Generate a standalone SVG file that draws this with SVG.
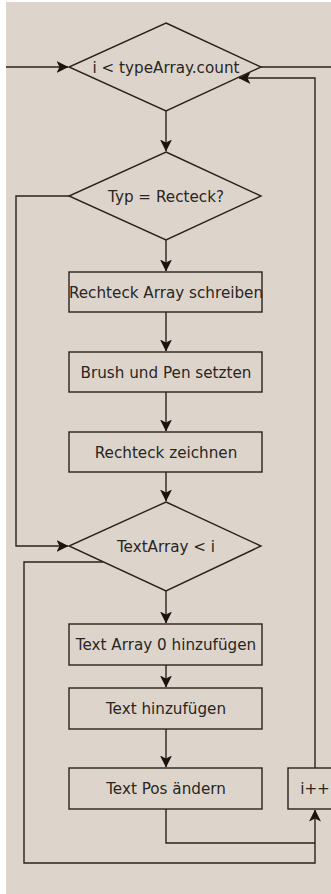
<svg xmlns="http://www.w3.org/2000/svg" width="331" height="894" viewBox="0 0 331 894">
  <style>
    .shape { fill: none; stroke: #2b221b; stroke-width: 1.4; }
    .wire { fill: none; stroke: #2b221b; stroke-width: 1.4; }
    .label { font-family: "DejaVu Sans", "Liberation Sans", sans-serif; font-size: 15.2px; fill: #2a2522; text-anchor: middle; }
  </style>
  <defs>
    <marker id="arrow" viewBox="0 0 12 13" refX="11.5" refY="6.5" markerWidth="12" markerHeight="13" markerUnits="userSpaceOnUse" orient="auto">
      <path d="M0,0.5 L12,6.5 L0,12.5 L3,6.5 Z" fill="#1a130e"/>
    </marker>
  </defs>

  <!-- canvas -->
  <rect x="0" y="0" width="331" height="894" fill="#ffffff"/>
  <rect x="6" y="2" width="325" height="892" fill="#ddd5cc"/>

  <!-- connectors -->
  <g id="connectors">
    <line class="wire" x1="6" y1="67" x2="68" y2="67" marker-end="url(#arrow)"/>
    <line class="wire" x1="261" y1="67" x2="331" y2="67"/>
    <line class="wire" x1="166" y1="111" x2="166" y2="151" marker-end="url(#arrow)"/>
    <polyline class="wire" points="69,196 16,196 16,546 68,546" marker-end="url(#arrow)"/>
    <line class="wire" x1="166" y1="240" x2="166" y2="271" marker-end="url(#arrow)"/>
    <line class="wire" x1="166" y1="312" x2="166" y2="351" marker-end="url(#arrow)"/>
    <line class="wire" x1="166" y1="392" x2="166" y2="431" marker-end="url(#arrow)"/>
    <line class="wire" x1="166" y1="472" x2="166" y2="501" marker-end="url(#arrow)"/>
    <line class="wire" x1="166" y1="591" x2="166" y2="623" marker-end="url(#arrow)"/>
    <line class="wire" x1="166" y1="665" x2="166" y2="687" marker-end="url(#arrow)"/>
    <line class="wire" x1="166" y1="729" x2="166" y2="767" marker-end="url(#arrow)"/>
    <polyline class="wire" points="166,809 166,843 315,843"/>
    <polyline class="wire" points="103,562 24,562 24,863 315,863 315,810" marker-end="url(#arrow)"/>
    <polyline class="wire" points="315,768 315,78 239,78" marker-end="url(#arrow)"/>
  </g>

  <g id="loop-check">
    <polygon class="shape" points="166,23 261,67 166,111 69,67"/>
    <text class="label" x="166" y="72.5">i &lt; typeArray.count</text>
  </g>

  <g id="type-check">
    <polygon class="shape" points="166,152 261,196 166,240 69,196"/>
    <text class="label" x="166" y="201.5">Typ = Recteck?</text>
  </g>

  <g id="rect-array">
    <rect class="shape" x="69" y="272" width="193" height="40"/>
    <text class="label" x="166" y="297.5">Rechteck Array schreiben</text>
  </g>

  <g id="brush-pen">
    <rect class="shape" x="69" y="352" width="193" height="40"/>
    <text class="label" x="166" y="377.5">Brush und Pen setzten</text>
  </g>

  <g id="draw-rect">
    <rect class="shape" x="69" y="432" width="193" height="40"/>
    <text class="label" x="166" y="457.5">Rechteck zeichnen</text>
  </g>

  <g id="text-check">
    <polygon class="shape" points="166,502 261,546 166,591 69,546"/>
    <text class="label" x="166" y="551.5">TextArray &lt; i</text>
  </g>

  <g id="text-array-add">
    <rect class="shape" x="69" y="624" width="193" height="41"/>
    <text class="label" x="166" y="650">Text Array 0 hinzufügen</text>
  </g>

  <g id="text-add">
    <rect class="shape" x="69" y="688" width="193" height="41"/>
    <text class="label" x="166" y="714">Text hinzufügen</text>
  </g>

  <g id="text-pos">
    <rect class="shape" x="69" y="768" width="193" height="41"/>
    <text class="label" x="166" y="794">Text Pos ändern</text>
  </g>

  <g id="increment">
    <rect class="shape" x="288" y="768" width="54" height="41"/>
    <text class="label" x="315" y="794">i++</text>
  </g>
</svg>
